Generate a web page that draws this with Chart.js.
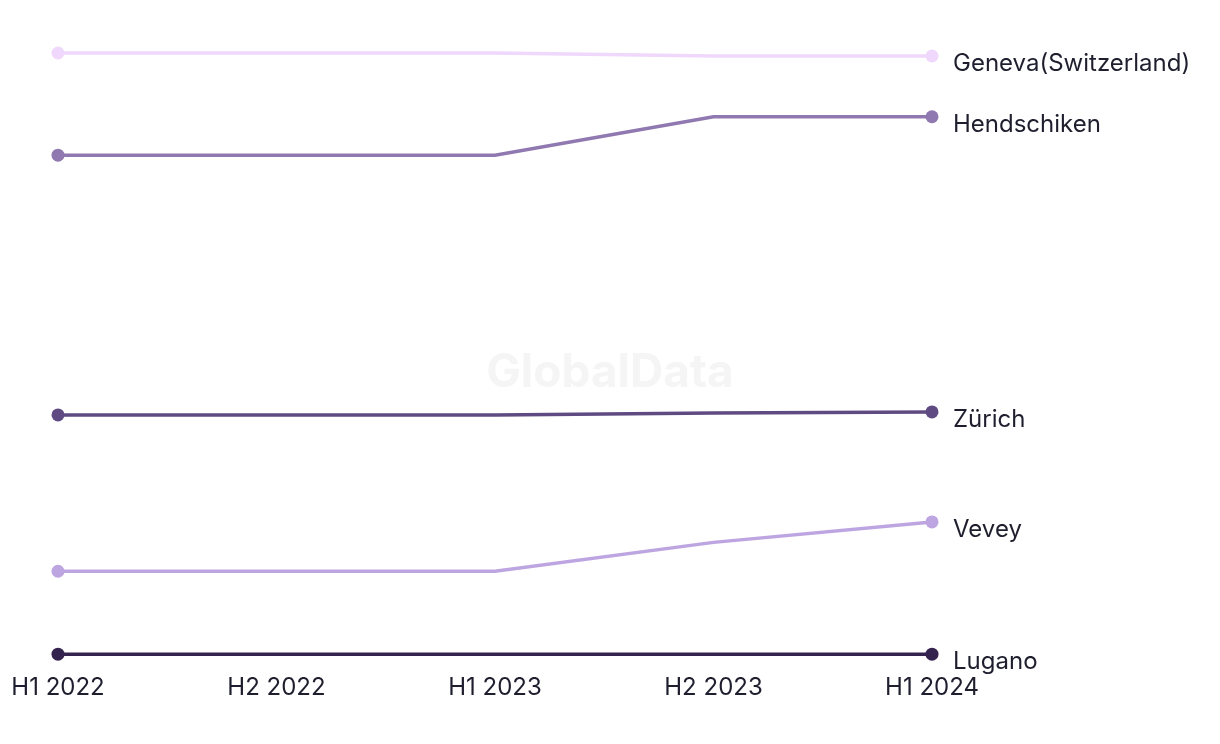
<!DOCTYPE html>
<html>
<head>
<meta charset="utf-8">
<script src="https://cdn.jsdelivr.net/npm/chart.js@4/dist/chart.umd.min.js"></script>
<style>
  html, body { margin: 0; padding: 0; background: #ffffff; }
  #wrap { width: 1220px; height: 744px; position: relative; }
</style>
</head>
<body>
<div id="wrap"><canvas id="c" width="1220" height="744"></canvas></div>
<script>
const categories = ['H1 2022', 'H2 2022', 'H1 2023', 'H2 2023', 'H1 2024'];
const seriesNames = ['Geneva(Switzerland)', 'Hendschiken', 'Zürich', 'Vevey', 'Lugano'];
const geneva = [100, 100, 100, 99.5, 99.5];
const hendschiken = [83.0, 83.0, 83.0, 89.4, 89.4];
const zurich = [39.8, 39.8, 39.8, 40.1, 40.3];
const vevey = [13.8, 13.8, 13.8, 18.6, 22.0];
const lugano = [0, 0, 0, 0, 0];
const seriesColors = ['#EFD8FB', '#9078B0', '#5F4B82', '#BDA5E1', '#35234F'];

const allSeries = [geneva, hendschiken, zurich, vevey, lugano];
const datasets = allSeries.map((vals, i) => ({
  label: seriesNames[i],
  data: vals,
  borderColor: seriesColors[i],
  backgroundColor: seriesColors[i],
  borderWidth: 3.5,
  tension: 0,
  clip: false,
  pointRadius: vals.map((v, j) => (j === 0 || j === vals.length - 1) ? 6.5 : 0),
  pointHoverRadius: 0,
  pointBorderWidth: 0
}));

const watermark = {
  id: 'watermark',
  beforeDatasetsDraw(chart) {
    const ctx = chart.ctx;
    ctx.save();
    ctx.font = 'bold 46px Inter, "Liberation Sans", sans-serif';
    ctx.fillStyle = '#F5F5F5';
    ctx.textAlign = 'center';
    ctx.textBaseline = 'middle';
    ctx.fillText('GlobalData', chart.width / 2, 373);
    ctx.restore();
  }
};

const endLabels = {
  id: 'endLabels',
  afterDatasetsDraw(chart) {
    const ctx = chart.ctx;
    ctx.save();
    ctx.font = '24px Inter, "Liberation Sans", sans-serif';
    ctx.fillStyle = '#1E1E2E';
    ctx.textAlign = 'left';
    ctx.textBaseline = 'middle';
    chart.data.datasets.forEach((ds, i) => {
      const meta = chart.getDatasetMeta(i);
      const pt = meta.data[meta.data.length - 1];
      ctx.fillText(ds.label, pt.x + 21, pt.y + 8);
    });
    ctx.restore();
  }
};

new Chart(document.getElementById('c'), {
  type: 'line',
  data: { labels: categories, datasets: datasets },
  options: {
    responsive: false,
    animation: false,
    layout: { padding: { left: 58, right: 288, top: 53, bottom: 23 } },
    plugins: { legend: { display: false }, tooltip: { enabled: false } },
    scales: {
      x: {
        afterFit(scale) { scale.paddingLeft = 0; scale.paddingRight = 0; },
        grid: { display: false, drawTicks: false },
        border: { display: false },
        ticks: {
          padding: 19,
          color: '#1E1E2E',
          font: { family: 'Inter, "Liberation Sans", sans-serif', size: 24 },
          maxRotation: 0,
          autoSkip: false
        }
      },
      y: {
        display: false,
        min: 0,
        max: 100
      }
    }
  },
  plugins: [watermark, endLabels]
});
</script>
</body>
</html>
